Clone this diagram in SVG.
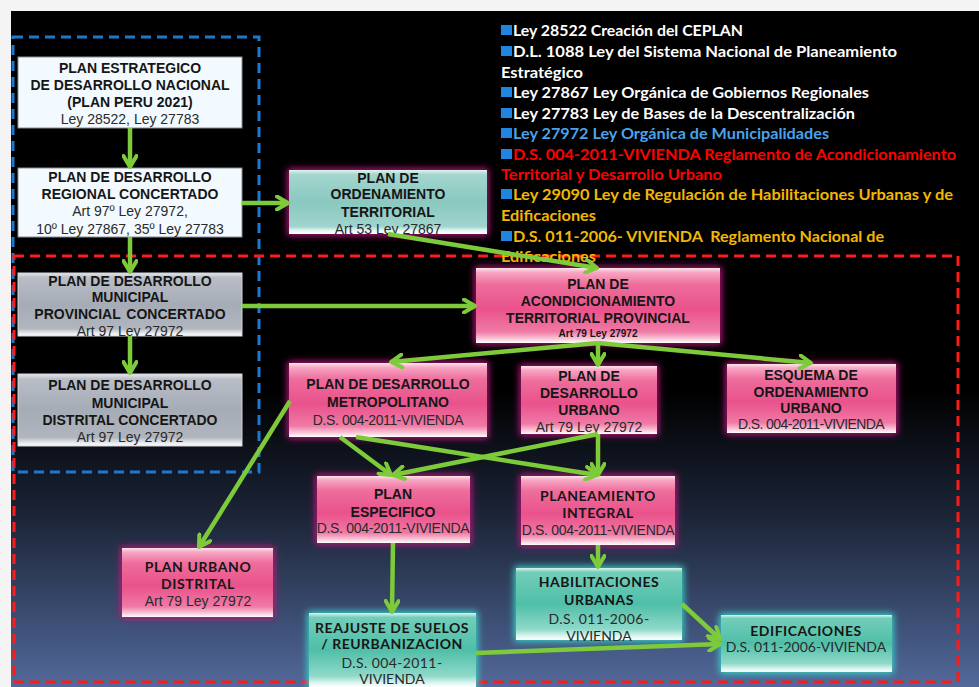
<svg xmlns="http://www.w3.org/2000/svg" width="979" height="687" viewBox="0 0 979 687">
<defs>
<linearGradient id="bg" x1="0" y1="0" x2="0" y2="1">
<stop offset="0" stop-color="#000"/><stop offset="0.56" stop-color="#000"/><stop offset="0.75" stop-color="#1c2538"/><stop offset="1" stop-color="#52699b"/>
</linearGradient>
<linearGradient id="gPink" x1="0" y1="0" x2="0" y2="1">
<stop offset="0" stop-color="#fde3ec"/><stop offset="0.06" stop-color="#f7a6c4"/><stop offset="0.22" stop-color="#ee6d9c"/><stop offset="0.55" stop-color="#e9528b"/><stop offset="0.85" stop-color="#f07aa6"/><stop offset="0.94" stop-color="#f9c3d6"/><stop offset="1" stop-color="#fff"/>
</linearGradient>
<linearGradient id="gTeal" x1="0" y1="0" x2="0" y2="1">
<stop offset="0" stop-color="#d9f5ef"/><stop offset="0.06" stop-color="#72cdb9"/><stop offset="0.5" stop-color="#4fbfa8"/><stop offset="0.85" stop-color="#8fd9c9"/><stop offset="0.94" stop-color="#d8f4ee"/><stop offset="1" stop-color="#fff"/>
</linearGradient>
<linearGradient id="gTealL" x1="0" y1="0" x2="0" y2="1">
<stop offset="0" stop-color="#e2f4f1"/><stop offset="0.07" stop-color="#a3d6cf"/><stop offset="0.5" stop-color="#8ac8c0"/><stop offset="0.88" stop-color="#9fd4cd"/><stop offset="0.95" stop-color="#e8f7f5"/><stop offset="1" stop-color="#fff"/>
</linearGradient>
<linearGradient id="gGray" x1="0" y1="0" x2="0" y2="1">
<stop offset="0" stop-color="#e6e8ec"/><stop offset="0.07" stop-color="#b8bdc6"/><stop offset="0.5" stop-color="#a6acb6"/><stop offset="0.88" stop-color="#b0b5be"/><stop offset="0.95" stop-color="#e4e6ea"/><stop offset="1" stop-color="#fff"/>
</linearGradient>
<filter id="blur" x="-30%" y="-30%" width="160%" height="160%"><feGaussianBlur stdDeviation="3.5"/></filter>
<marker id="arr" viewBox="0 0 16 16" refX="13" refY="8" markerWidth="16" markerHeight="16" markerUnits="userSpaceOnUse" orient="auto">
<path d="M2,1.5 L13,8 L2,14.5" fill="none" stroke="#7dcb3b" stroke-width="4" stroke-linecap="round" stroke-linejoin="round"/>
</marker>
<style>
.t{font-family:"Liberation Sans",Arial,sans-serif;font-size:14px;text-anchor:middle;fill:#161616}
.b{font-weight:bold}
.n{fill:#2a2a2a}
.c{font-family:Lato,"Open Sans",sans-serif}
.gp{fill:#b8187a;stroke:#b8187a;stroke-width:3;filter:url(#blur)}
.gc{fill:#39d6c8;stroke:#39d6c8;stroke-width:3;filter:url(#blur)}
.pink{fill:url(#gPink)}
.teal{fill:url(#gTeal)}
.tealL{fill:url(#gTealL)}
.gray{fill:url(#gGray);stroke:#d0d3d8;stroke-width:1}
.white{fill:#f3faff;stroke:#8a8f96;stroke-width:1}
.con path{fill:none;stroke:#7dcb3b;stroke-width:4.5;marker-end:url(#arr)}
.lst{font-family:Lato,"Open Sans",sans-serif;font-weight:bold;font-size:16px}
.bul{fill:#1e86e0}
</style>
</defs>
<rect width="979" height="687" fill="#f4f4f4"/>
<rect x="11" y="11" width="968" height="676" fill="url(#bg)"/>

<!-- dashed regions -->
<rect x="13" y="37" width="246" height="435" fill="none" stroke="#1a7ad0" stroke-width="3" stroke-dasharray="10 6"/>
<rect x="14" y="256" width="944" height="426" fill="none" stroke="#ff1a1a" stroke-width="3" stroke-dasharray="10 6"/>

<!-- legal list -->
<g id="legend" class="lst">
<rect class="bul" x="501" y="25" width="11" height="10"/>
<text x="513" y="36" fill="#fff" textLength="230" lengthAdjust="spacingAndGlyphs">Ley 28522 Creación del CEPLAN</text>
<rect class="bul" x="501" y="46" width="11" height="10"/>
<text x="513" y="57" fill="#fff" textLength="384" lengthAdjust="spacingAndGlyphs">D.L. 1088 Ley del Sistema Nacional de Planeamiento</text>
<text x="501" y="78" fill="#fff" textLength="82" lengthAdjust="spacingAndGlyphs">Estratégico</text>
<rect class="bul" x="501" y="87" width="11" height="10"/>
<text x="513" y="98" fill="#fff" textLength="356" lengthAdjust="spacingAndGlyphs">Ley 27867 Ley Orgánica de Gobiernos Regionales</text>
<rect class="bul" x="501" y="108" width="11" height="10"/>
<text x="513" y="119" fill="#fff" textLength="342" lengthAdjust="spacingAndGlyphs">Ley 27783 Ley de Bases de la Descentralización</text>
<rect class="bul" x="501" y="128" width="11" height="10"/>
<text x="513" y="139" fill="#4aa3ea" textLength="316" lengthAdjust="spacingAndGlyphs">Ley 27972 Ley Orgánica de Municipalidades</text>
<rect class="bul" x="501" y="149" width="11" height="10"/>
<text x="513" y="160" fill="#f00" textLength="443" lengthAdjust="spacingAndGlyphs">D.S. 004-2011-VIVIENDA Reglamento de Acondicionamiento</text>
<text x="501" y="180" fill="#f00" textLength="221" lengthAdjust="spacingAndGlyphs">Territorial y Desarrollo Urbano</text>
<rect class="bul" x="501" y="189" width="11" height="10"/>
<text x="513" y="200" fill="#f2b705" textLength="440" lengthAdjust="spacingAndGlyphs">Ley 29090 Ley de Regulación de Habilitaciones Urbanas y de</text>
<text x="501" y="221" fill="#f2b705" textLength="95" lengthAdjust="spacingAndGlyphs">Edificaciones</text>
<rect class="bul" x="501" y="231" width="11" height="10"/>
<text x="513" y="242" fill="#f2b705" textLength="371" lengthAdjust="spacingAndGlyphs" xml:space="preserve">D.S. 011-2006- VIVIENDA  Reglamento Nacional de</text>
<text x="501" y="262" fill="#f2b705" textLength="95" lengthAdjust="spacingAndGlyphs">Edificaciones</text>
</g>

<!-- nodes -->
<g id="n1">
<rect class="white" x="18" y="57" width="224" height="71"/>
<text class="t b" x="130" y="73">PLAN ESTRATEGICO</text>
<text class="t b" x="130" y="90">DE DESARROLLO NACIONAL</text>
<text class="t b" x="130" y="107">(PLAN PERU 2021)</text>
<text class="t n" x="130" y="124">Ley 28522, Ley 27783</text>
</g>
<g id="n2">
<rect class="white" x="18" y="168" width="224" height="69"/>
<text class="t b" x="130" y="182">PLAN DE DESARROLLO</text>
<text class="t b" x="130" y="199">REGIONAL CONCERTADO</text>
<text class="t n" x="130" y="216">Art 97º Ley 27972,</text>
<text class="t n" x="130" y="234">10º Ley 27867, 35º Ley 27783</text>
</g>
<g id="n3">
<rect class="gp" x="289" y="170" width="198" height="64"/>
<rect class="tealL" x="289" y="170" width="198" height="64"/>
<text class="t b" x="388" y="183">PLAN DE</text>
<text class="t b" x="388" y="199">ORDENAMIENTO</text>
<text class="t b" x="388" y="217">TERRITORIAL</text>
<text class="t n" x="388" y="234">Art 53 Ley 27867</text>
</g>
<g id="n4">
<rect class="gray" x="18" y="273" width="224" height="63"/>
<text class="t b" x="130" y="286">PLAN DE DESARROLLO</text>
<text class="t b" x="130" y="302">MUNICIPAL</text>
<text class="t b" x="130" y="319" word-spacing="2">PROVINCIAL CONCERTADO</text>
<text class="t n" x="130" y="336">Art 97 Ley 27972</text>
</g>
<g id="n5">
<rect class="gray" x="18" y="374" width="224" height="72"/>
<text class="t b" x="130" y="390">PLAN DE DESARROLLO</text>
<text class="t b" x="130" y="408">MUNICIPAL</text>
<text class="t b" x="130" y="425">DISTRITAL CONCERTADO</text>
<text class="t n" x="130" y="442">Art 97 Ley 27972</text>
</g>
<g id="n6">
<rect class="gp" x="476" y="268" width="244" height="75"/>
<rect class="pink" x="476" y="268" width="244" height="75"/>
<text class="t b" x="598" y="289">PLAN DE</text>
<text class="t b" x="598" y="306">ACONDICIONAMIENTO</text>
<text class="t b" x="598" y="323">TERRITORIAL PROVINCIAL</text>
<text class="t b" x="598" y="337" style="font-size:10px">Art 79 Ley 27972</text>
</g>
<g id="n7">
<rect class="gp" x="289" y="363" width="198" height="74"/>
<rect class="pink" x="289" y="363" width="198" height="74"/>
<text class="t b" x="388" y="389">PLAN DE DESARROLLO</text>
<text class="t b" x="388" y="407">METROPOLITANO</text>
<text class="t n" x="388" y="425" letter-spacing="-0.4">D.S. 004-2011-VIVIENDA</text>
</g>
<g id="n8">
<rect class="gp" x="521" y="366" width="136" height="68"/>
<rect class="pink" x="521" y="366" width="136" height="68"/>
<text class="t b" x="589" y="381">PLAN DE</text>
<text class="t b" x="589" y="398">DESARROLLO</text>
<text class="t b" x="589" y="415">URBANO</text>
<text class="t n" x="589" y="432">Art 79 Ley 27972</text>
</g>
<g id="n9">
<rect class="gp" x="727" y="364" width="169" height="69"/>
<rect class="pink" x="727" y="364" width="169" height="69"/>
<text class="t b" x="811" y="380">ESQUEMA DE</text>
<text class="t b" x="811" y="397">ORDENAMIENTO</text>
<text class="t b" x="811" y="413">URBANO</text>
<text class="t n" x="811" y="429" letter-spacing="-0.6">D.S. 004-2011-VIVIENDA</text>
</g>
<g id="n10">
<rect class="gp" x="317" y="476" width="153" height="67"/>
<rect class="pink" x="317" y="476" width="153" height="67"/>
<text class="t b" x="393" y="499">PLAN</text>
<text class="t b" x="393" y="517">ESPECIFICO</text>
<text class="t n" x="393" y="533" letter-spacing="-0.3">D.S. 004-2011-VIVIENDA</text>
</g>
<g id="n11">
<rect class="gp" x="122" y="548" width="151" height="69"/>
<rect class="pink" x="122" y="548" width="151" height="69"/>
<text class="t b c" x="198" y="572" letter-spacing="0.6">PLAN URBANO</text>
<text class="t b c" x="198" y="589" letter-spacing="0.6">DISTRITAL</text>
<text class="t n" x="198" y="606">Art 79 Ley 27972</text>
</g>
<g id="n12">
<rect class="gc" x="309" y="613" width="167" height="74"/>
<rect class="teal" x="309" y="613" width="167" height="74"/>
<text class="t b c" x="392" y="633" letter-spacing="0.5">REAJUSTE DE SUELOS</text>
<text class="t b c" x="392" y="649" letter-spacing="0.5">/ REURBANIZACION</text>
<text class="t c n" x="392" y="668" letter-spacing="0.4">D.S. 004-2011-</text>
<text class="t c n" x="392" y="684">VIVIENDA</text>
</g>
<g id="n13">
<rect class="gp" x="521" y="476" width="154" height="69"/>
<rect class="pink" x="521" y="476" width="154" height="69"/>
<text class="t b c" x="598" y="501" letter-spacing="0.5">PLANEAMIENTO</text>
<text class="t b c" x="598" y="518" letter-spacing="0.5">INTEGRAL</text>
<text class="t n" x="598" y="535" letter-spacing="-0.3">D.S. 004-2011-VIVIENDA</text>
</g>
<g id="n14">
<rect class="gc" x="516" y="568" width="166" height="72"/>
<rect class="teal" x="516" y="568" width="166" height="72"/>
<text class="t b c" x="599" y="587" letter-spacing="0.5">HABILITACIONES</text>
<text class="t b c" x="599" y="605" letter-spacing="0.5">URBANAS</text>
<text class="t c n" x="599" y="624" letter-spacing="0.4">D.S. 011-2006-</text>
<text class="t c n" x="599" y="641">VIVIENDA</text>
</g>
<g id="n15">
<rect class="gc" x="721" y="615" width="171" height="57"/>
<rect class="teal" x="721" y="615" width="171" height="57"/>
<text class="t b c" x="806" y="636" letter-spacing="0.5">EDIFICACIONES</text>
<text class="t c n" x="806" y="652">D.S. 011-2006-VIVIENDA</text>
</g>

<!-- connectors -->
<g id="connectors" class="con">
<path d="M130,128 L130,167"/>
<path d="M130,237 L130,272"/>
<path d="M130,336 L130,373"/>
<path d="M242,203 L288,203"/>
<path d="M388,234 L597,268"/>
<path d="M242,306 L475,306"/>
<path d="M598,343 L391,362"/>
<path d="M598,343 L598,365"/>
<path d="M598,343 L811,363"/>
<path d="M290,401 L199,547"/>
<path d="M340,437 L391,475"/>
<path d="M356,437 L597,475"/>
<path d="M598,434 L393,475"/>
<path d="M598,434 L598,475"/>
<path d="M393,543 L392,612"/>
<path d="M598,545 L598,567"/>
<path d="M682,604 L720,639"/>
<path d="M476,653 L720,644"/>
</g>
</svg>
